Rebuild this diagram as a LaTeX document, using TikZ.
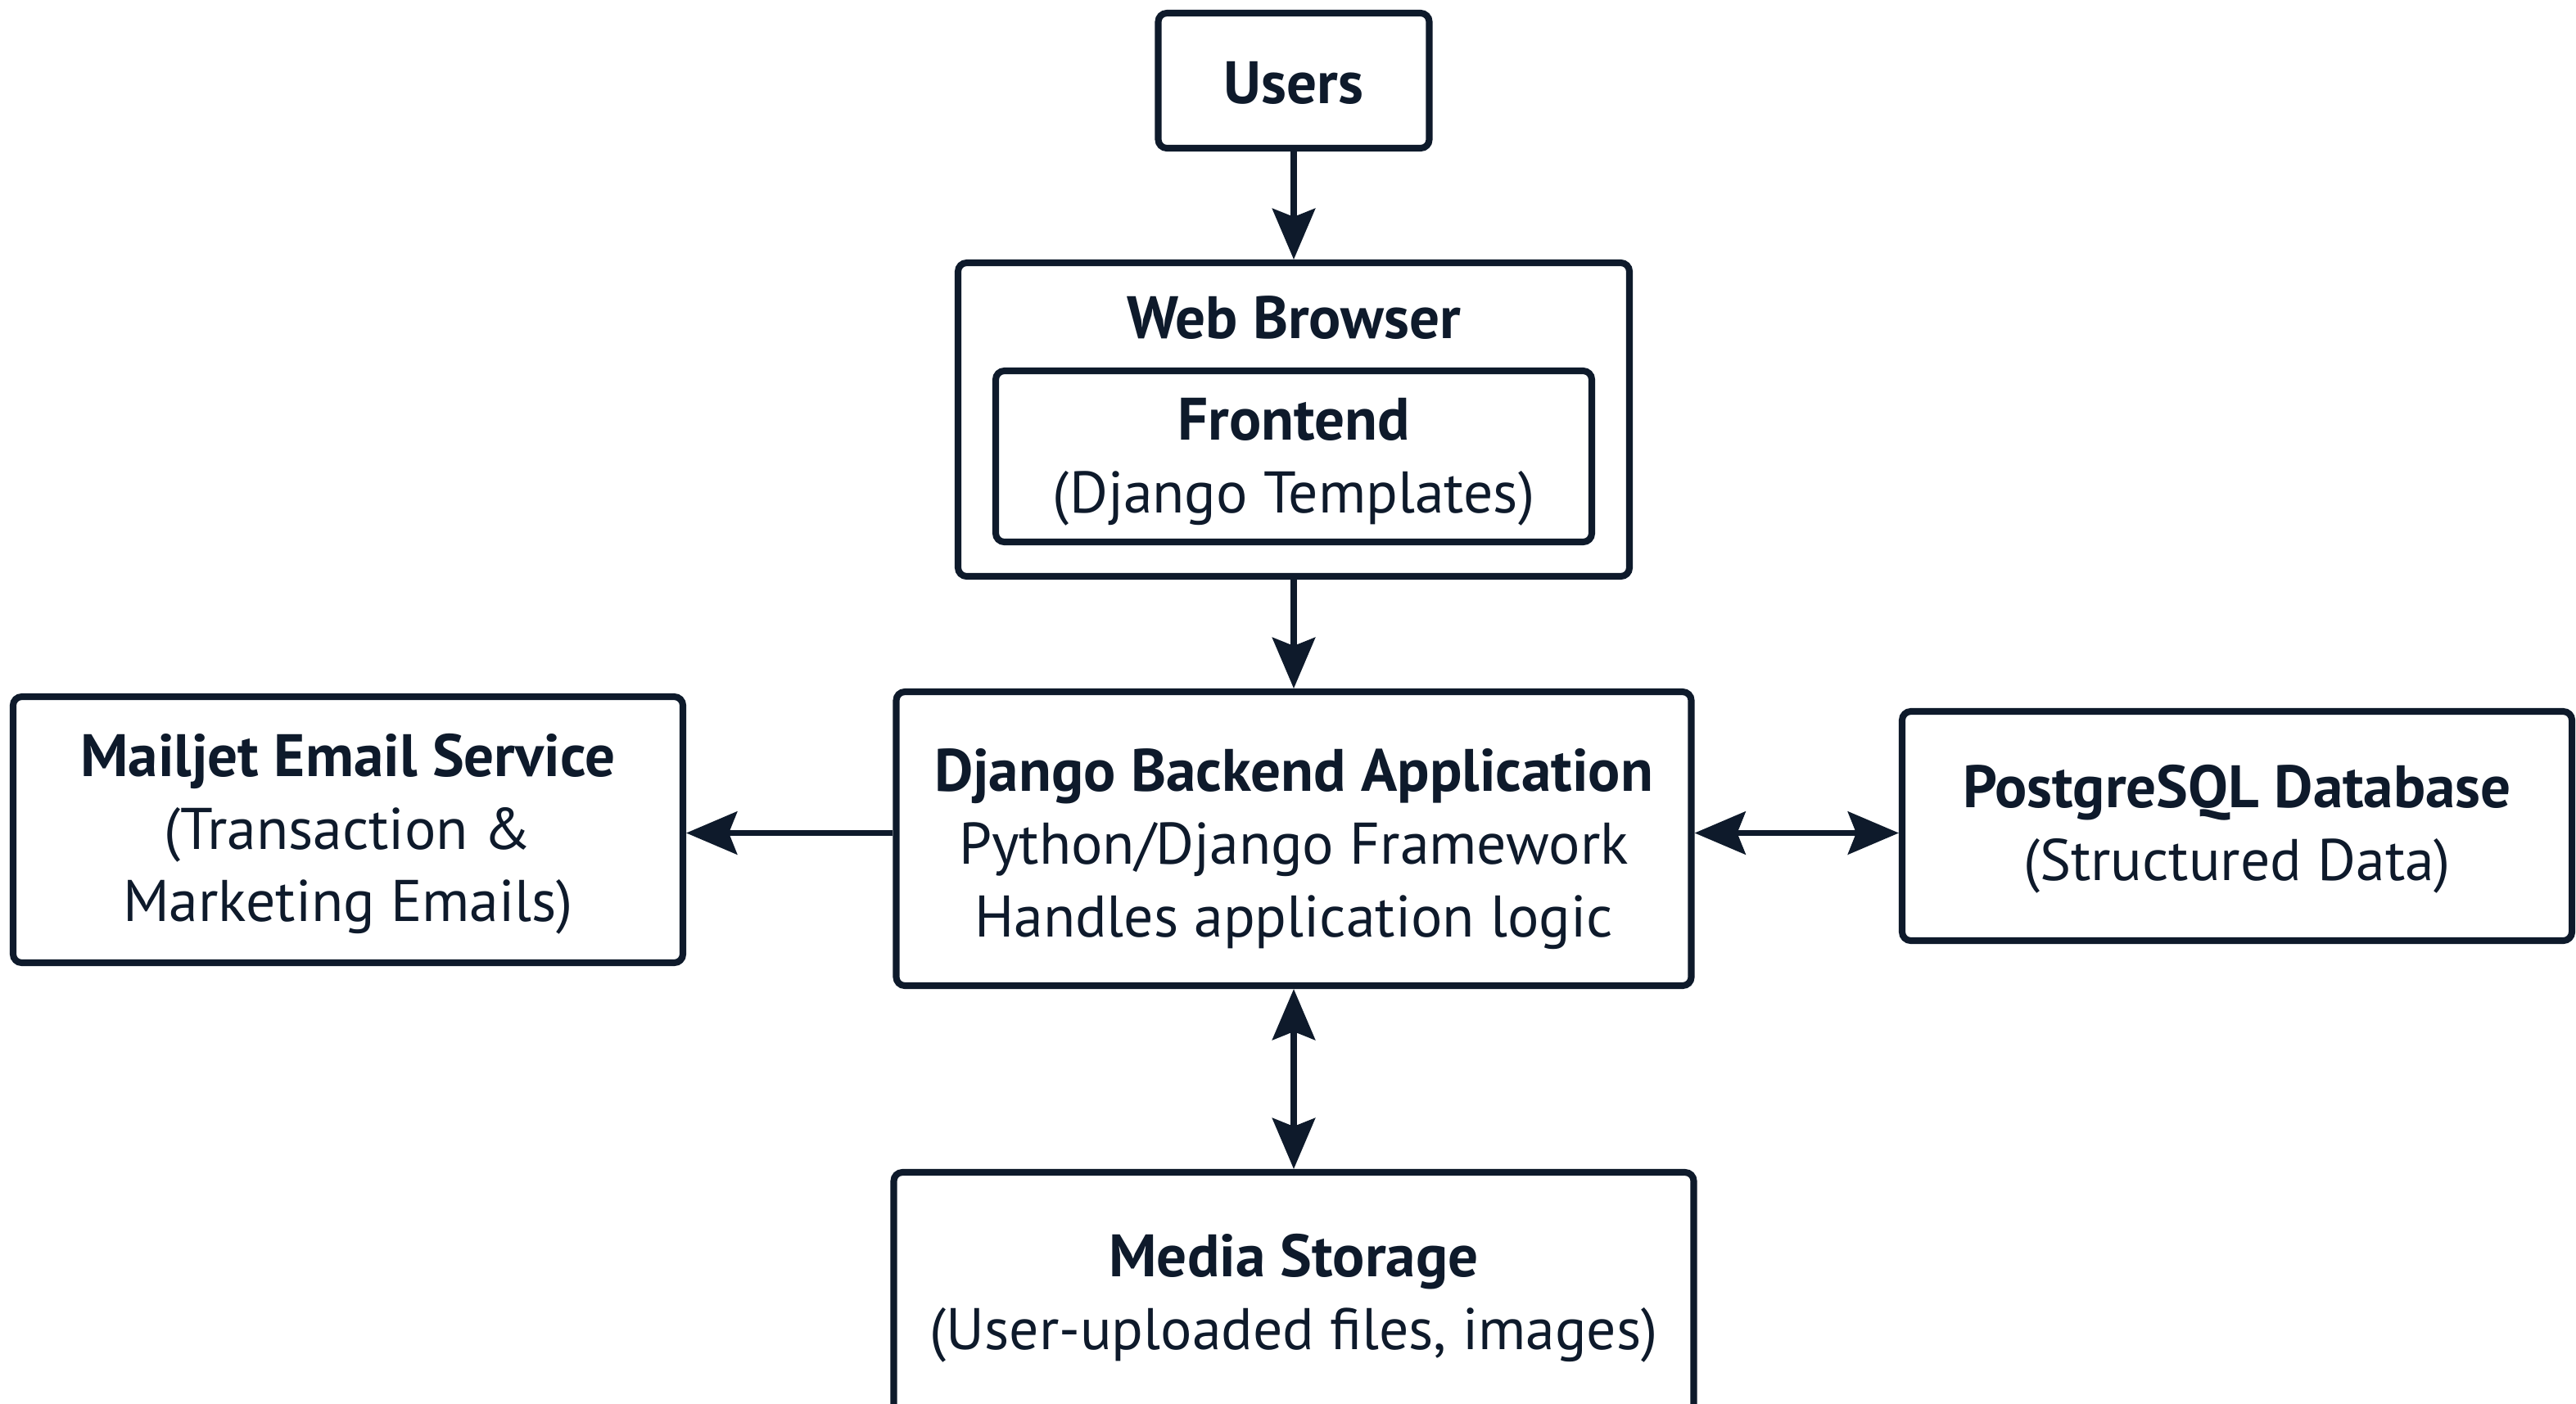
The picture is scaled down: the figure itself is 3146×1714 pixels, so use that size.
\documentclass[tikz,border=0pt]{standalone}
\usepackage{fontspec}
\setmainfont{PT Sans}
\usetikzlibrary{arrows.meta}
\definecolor{ink}{HTML}{0E1A2B}
\begin{document}
\begin{tikzpicture}[x=0.01cm,y=-0.01cm,
  box/.style={draw=ink, line width=2.3pt, rounded corners=3pt, inner sep=0pt},
  txt/.style={align=center, text=ink, inner sep=0pt, font=\fontsize{20.4}{25.2}\selectfont},
  tip/.tip={Stealth[length=0.62cm,width=0.52cm,inset=0.1cm]},
  conn/.style={draw=ink, line width=2.2pt, -tip},
  biconn/.style={draw=ink, line width=2.2pt, tip-tip}
]
\newcommand\hdtext[1]{{\bfseries\fontsize{20.8}{25.2}\selectfont #1}}
\useasboundingbox (0,0) rectangle (3146,1714);
\fill[white] (0,0) rectangle (3146,1714);
\begin{scope}
\clip (0,0) rectangle (3146,1714);
% boxes
\node[box, minimum width=331*0.01cm, minimum height=165*0.01cm] (users) at (1580,98.5) {};
\node[box, minimum width=820*0.01cm, minimum height=383*0.01cm] (browser) at (1580,512.5) {};
\node[box, minimum width=728*0.01cm, minimum height=209*0.01cm] (frontend) at (1580,557.5) {};
\node[box, minimum width=971*0.01cm, minimum height=359*0.01cm] (django) at (1580,1024.5) {};
\node[box, minimum width=818*0.01cm, minimum height=325*0.01cm] (mailjet) at (425,1013.5) {};
\node[box, minimum width=818*0.01cm, minimum height=280*0.01cm] (pg) at (2732,1009) {};
\node[box, minimum width=977*0.01cm, minimum height=340*0.01cm] (media) at (1580,1602) {};
% texts
\node[txt] (userstext) at (1580,101) {\hdtext{Users}};
\node[txt] (browsertitle) at (1580,388) {\hdtext{Web Browser}};
\node[txt] (frontendtext) at (1580,564) {\hdtext{Frontend}\\(Django Templates)};
\node[txt] (djangotext) at (1580,1037) {\hdtext{Django Backend Application}\\Python/Django Framework\\Handles application logic};
\node[txt] (mailjettext) at (425,1019) {\hdtext{Mailjet Email Service}\\(Transaction \&\\Marketing Emails)};
\node[txt] (pgtext) at (2732,1013) {\hdtext{PostgreSQL Database}\\(Structured Data)};
\node[txt] (mediatext) at (1580,1586) {\hdtext{Media Storage}\\(User-uploaded files, images)};
\end{scope}
% connectors
\draw[conn] (users.south) -- (browser.north);
\draw[conn] (browser.south) -- (django.north);
\draw[conn] ([yshift=0.07cm]django.west) -- ([yshift=0.07cm]django.west -| mailjet.east);
\draw[biconn] ([yshift=0.07cm]django.east) -- ([yshift=0.07cm]django.east -| pg.west);
\draw[biconn] (django.south) -- (django.south |- media.north);
\end{tikzpicture}
\end{document}
